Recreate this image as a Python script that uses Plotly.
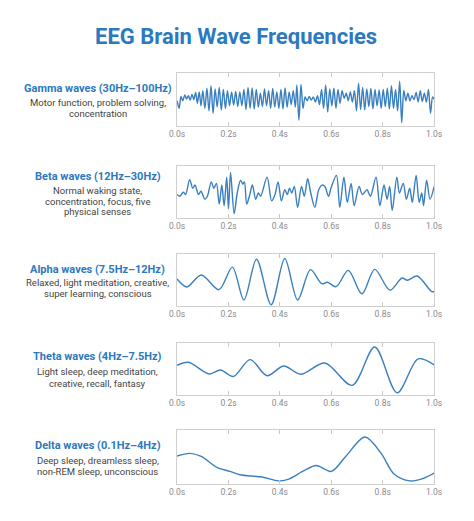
import plotly.graph_objects as go

# EEG traces: time in ms, amplitude scaled so 1 = edge of the panel box
gamma_ms = [0, 8, 15, 22, 30, 37, 44, 51, 58, 65, 72, 79, 86, 93,
            100, 108, 116, 124, 132, 140, 148, 156, 164, 172, 180, 188, 196, 204, 212, 220,
            228, 236, 244, 252, 260, 268, 276, 284, 292, 300, 308, 316, 324, 332, 340, 348,
            356, 364, 372, 380, 388, 396, 404, 412, 420, 428, 436, 444, 452, 460, 466, 474,
            482, 490,
            498, 506, 514, 522, 530, 538, 546, 554,
            562, 570, 578, 586, 594, 602, 610, 618, 626, 634, 642, 650, 658, 666, 674, 682,
            690, 698, 706, 714, 722, 730, 738, 746, 754, 762, 770, 778, 786, 794, 802, 810,
            818, 826, 834, 842, 850, 858, 866, 874, 882,
            890, 898, 906, 914, 922, 930, 938, 946, 954, 962, 970, 978, 986, 994, 1000]
gamma_amp = [-0.05, -0.35, 0.12, -0.05, 0.18, 0.02, 0.15, -0.02, 0.20, 0.00, 0.28, -0.15, 0.30, -0.25,
             0.35, -0.35, 0.45, -0.45, 0.55, -0.55, 0.42, -0.30, 0.48, -0.42, 0.40, -0.35, 0.35, -0.25,
             0.30, -0.22, 0.32, -0.28, 0.30, -0.25, 0.40, -0.40, 0.48, -0.35, 0.46, -0.38, 0.40, -0.30,
             0.25, -0.28, 0.42, -0.25, 0.35, -0.35, 0.44, -0.30, 0.30, -0.35, 0.40, -0.38, 0.46, -0.30,
             0.30, -0.20, 0.35, -0.30, 0.58, -0.82, 0.60, -0.35,
             0.10, -0.05, 0.12, -0.02, 0.10, -0.10, 0.15, -0.20,
             0.40, -0.35, 0.58, -0.50, 0.42, -0.25, 0.45, -0.35, 0.40, -0.15, 0.35, 0.05, 0.25, -0.05,
             0.30, -0.10, 0.35, -0.45, 0.65, -0.40, 0.48, -0.42, 0.42, -0.28, 0.44, -0.38, 0.40, -0.25,
             0.38, -0.35, 0.40, -0.28, 0.45, -0.38, 0.55, -0.35, 0.40, -0.45, 0.73, -0.92, 0.36,
             -0.05, 0.25, -0.05, 0.15, 0.00, 0.28, -0.10, 0.35, -0.08, 0.25, -0.10, 0.40, -0.55, 0.10, 0.00]

beta_ms = [0, 11, 24, 33, 49, 61, 70, 83, 93, 108, 118, 133, 143, 153, 164, 174, 183, 193, 200, 208,
           222, 234, 247, 256, 262, 271, 283, 293, 306, 316, 325, 350, 368, 381, 393, 406, 419, 429,
           437, 446, 456, 469, 484,
           495, 508, 520, 536, 551, 564, 575, 589, 600, 620, 633, 649, 662, 677, 689, 708, 721, 739,
           752, 774, 789, 805, 817, 827, 837, 855, 865, 880, 892, 905, 915, 930, 942, 952, 959, 971,
           984, 1000]
beta_amp = [-0.10, -0.17, -0.01, -0.10, 0.50, 0.15, 0.28, -0.10, 0.03, -0.29, -0.17, 0.41, 0.15, 0.35,
            -0.49, 0.28, -0.55, 0.60, -0.68, 0.79, -0.87, -0.04, 0.47, 0.32, 0.41, -0.49, -0.10, 0.28,
            -0.29, -0.04, -0.17, 0.60, -0.36, -0.10, 0.41, -0.36, 0.09, -0.10, 0.15, -0.04, 0.22, -0.62,
            0.22,
            -0.17, 0.54, -0.04, -0.62, 0.09, 0.28, 0.22, -0.17, 0.20, 0.67, -0.62, 0.60, -0.42, 0.35,
            -0.55, 0.22, -0.10, 0.09, -0.17, 0.60, -0.55, 0.28, -0.29, 0.22, -0.74, 0.60, -0.04, 0.35,
            -0.29, 0.15, -0.42, 0.67, -0.42, -0.04, -0.55, 0.48, -0.29, 0.22]

alpha_ms = [0, 38, 94, 163, 215, 260, 309, 366, 419, 469, 519, 563, 585, 619, 666, 719, 769, 828,
            875, 896, 934, 991, 1000]
alpha_amp = [0.04, -0.28, 0.20, -0.39, 0.52, -0.81, 0.84, -1.00, 0.87, -0.81, 0.42, -0.15, -0.09,
             -0.27, 0.39, -0.56, 0.43, -0.41, 0.08, -0.01, 0.16, -0.47, -0.46]

theta_ms = [0, 44, 125, 169, 219, 284, 350, 415, 481, 575, 681, 769, 856, 938, 1000]
theta_amp = [0.15, 0.27, -0.20, -0.04, -0.30, 0.38, -0.27, 0.12, -0.21, 0.24, -0.66, 0.89, -0.96,
             0.41, 0.17]

delta_ms = [0, 50, 94, 156, 206, 244, 331, 394, 431, 494, 541, 600, 656, 731, 794, 844, 906, 956, 1000]
delta_amp = [0.04, 0.14, 0.02, -0.41, -0.56, -0.69, -0.78, -0.93, -0.87, -0.53, -0.33, -0.56, 0.02,
             0.78, 0.14, -0.66, -0.93, -0.84, -0.63]

wave_names = ["Gamma waves (30Hz\u2013100Hz)", "Beta waves (12Hz\u201330Hz)",
              "Alpha waves (7.5Hz\u201312Hz)", "Theta waves (4Hz\u20137.5Hz)",
              "Delta waves (0.1Hz\u20134Hz)"]
wave_notes = [["Motor function, problem solving,", "concentration"],
              ["Normal waking state,", "concentration, focus, five", "physical senses"],
              ["Relaxed, light meditation, creative,", "super learning, conscious"],
              ["Light sleep, deep meditation,", "creative, recall, fantasy"],
              ["Deep sleep, dreamless sleep,", "non-REM sleep, unconscious"]]
tick_vals = [0, 0.2, 0.4, 0.6, 0.8, 1.0]
tick_text = ["0.0s", "0.2s", "0.4s", "0.6s", "0.8s", "1.0s"]

traces = [(gamma_ms, gamma_amp), (beta_ms, beta_amp), (alpha_ms, alpha_amp),
          (theta_ms, theta_amp), (delta_ms, delta_amp)]

W, H = 474, 521
BLUE = "#2c79c0"
LINE = "#3a7fbf"

# panel boxes in pixels (top, bottom) and label rows
box_top = [73, 166, 254, 343, 430]
box_bot = [126, 218, 306, 395, 484]
label_y = [88, 176, 269, 356, 445]
note_y = [[102, 113], [190, 201, 212], [282, 293], [372, 383], [460, 471]]

fig = go.Figure()
layout = dict(
    width=W, height=H,
    margin=dict(l=0, r=0, t=0, b=0),
    paper_bgcolor="white", plot_bgcolor="white",
    showlegend=False,
    font=dict(family="Roboto", color="#444"),
)
annotations = [dict(text="<b>EEG Brain Wave Frequencies</b>", x=0.497, y=1 - 37 / H,
                    xref="paper", yref="paper", showarrow=False,
                    font=dict(size=22, color=BLUE), xanchor="center", yanchor="middle")]

for i, (ms, amp) in enumerate(traces):
    n = i + 1
    xa = "x" if n == 1 else f"x{n}"
    ya = "y" if n == 1 else f"y{n}"
    fig.add_trace(go.Scatter(
        x=[m / 1000 for m in ms], y=amp, mode="lines",
        line=dict(color=LINE, width=1.4, shape="spline", smoothing=0.9),
        xaxis=xa, yaxis=ya, hoverinfo="skip"))
    layout[f"xaxis{n if n > 1 else ''}"] = dict(
        domain=[175 / W, 441 / W], anchor=ya, range=[0, 1],
        tickvals=tick_vals, ticktext=tick_text,
        ticks="inside", ticklen=4, tickcolor="#c8c8c8",
        showline=True, linecolor="#cfcfcf", linewidth=1, mirror="ticks",
        showgrid=False, zeroline=False,
        tickfont=dict(size=8.5, color="#8a8a8a"), fixedrange=True)
    layout[f"yaxis{n if n > 1 else ''}"] = dict(
        domain=[1 - box_bot[i] / H, 1 - box_top[i] / H], anchor=xa,
        range=[-1.05, 1.05], showticklabels=False, ticks="",
        showline=True, linecolor="#cfcfcf", linewidth=1, mirror=True,
        showgrid=False, zeroline=False, fixedrange=True)
    annotations.append(dict(text=f"<b>{wave_names[i]}</b>", x=93 / W, y=1 - label_y[i] / H,
                            xref="paper", yref="paper", showarrow=False,
                            font=dict(size=11, color=BLUE), xanchor="center", yanchor="middle"))
    for line_text, ly in zip(wave_notes[i], note_y[i]):
        annotations.append(dict(text=line_text, x=93 / W, y=1 - ly / H,
                                xref="paper", yref="paper", showarrow=False,
                                font=dict(size=9.5, color="#444"), xanchor="center", yanchor="middle"))

layout["annotations"] = annotations
fig.update_layout(**layout)
# drop the browser's default body margin so the figure sits at the window corner
fig.write_html("out.html", config={"displayModeBar": False},
               post_script="document.body.style.margin='0';")
